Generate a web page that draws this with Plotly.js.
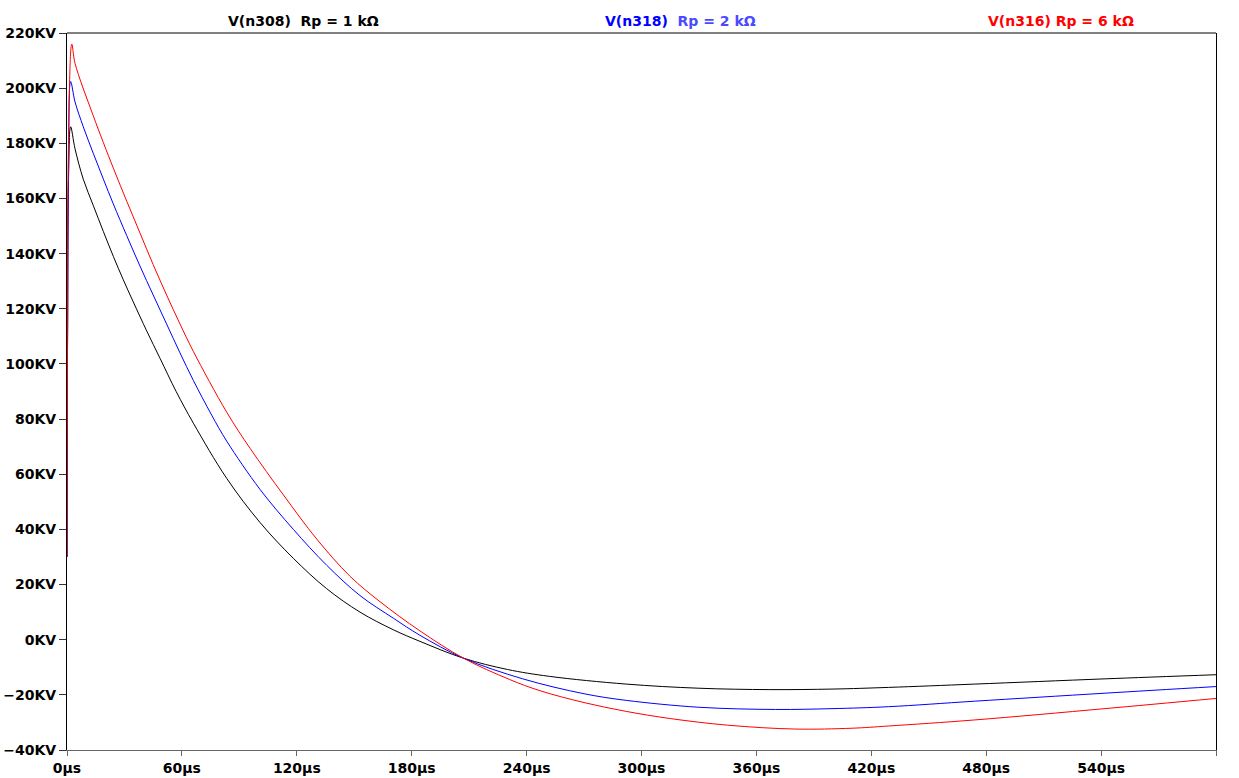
<!DOCTYPE html>
<html>
<head>
<meta charset="utf-8">
<script src="https://cdn.plot.ly/plotly-3.0.1.min.js"></script>
<style>html,body{margin:0;padding:0;background:#fff;}#chart{width:1239px;height:778px;}</style>
</head>
<body>
<div id="chart"></div>
<script>
// time in microseconds, voltage in kV
const tBlack = [0, 0.3, 0.8, 1.9, 4.2, 8.5, 13.7, 19, 24.2, 29.4, 34.6, 41.6, 48.6, 57, 66, 83.4, 100.8, 118.2, 135.6, 153, 170.4, 184.3, 207, 230, 252, 292, 330, 367, 400, 429, 474, 542, 600];
const vBlack = [30, 110, 167, 186, 178, 167, 157.5, 148, 139, 130.5, 122.5, 112, 102, 90, 78.5, 58.5, 42.5, 29.5, 18.5, 10.0, 3.6, -0.6, -6.7, -10.8, -13.3, -16.1, -17.6, -18.1, -17.9, -17.3, -16.1, -14.2, -12.7];

const tBlue = [0, 0.3, 0.8, 1.9, 4.2, 8.5, 13.7, 19, 24.2, 31.2, 38.1, 45, 52, 59, 66, 75.5, 83.4, 100.8, 118.2, 135.6, 153, 170.4, 184.3, 207, 238, 270, 292, 330, 370, 400, 429, 474, 542, 600];
const vBlue = [30, 110, 170, 202.4, 195, 186, 176.4, 167, 158, 146.5, 135.5, 125, 114.5, 104, 94, 81.5, 72, 54.5, 40, 27, 16, 7.8, 1.6, -6.7, -14.2, -19.6, -22.0, -24.5, -25.3, -25.0, -24.3, -22.3, -19.4, -17];

const tRed = [0, 0.3, 0.8, 2.5, 4.2, 13.7, 24.2, 31.2, 38.1, 45, 52, 59, 66, 83.4, 95.6, 113, 130.4, 147.8, 163.4, 184.3, 207, 231, 247, 270, 292, 315, 345, 380, 410, 429, 474, 542, 600];
const vRed = [30, 110, 180, 216, 209, 190, 171, 159, 147.5, 136, 125, 114.5, 104.5, 82.5, 69.4, 52.5, 36.5, 23.0, 13.8, 3.2, -6.7, -14.4, -18.5, -22.8, -26, -28.6, -31, -32.4, -32.1, -31.3, -29.1, -25.0, -21.3];

const seriesNames = ["V(n308)  Rp = 1 kΩ", "V(n318)  Rp = 2 kΩ", "V(n316) Rp = 6 kΩ"];

const FONT = "DejaVu Sans";
const lineShape = {shape: "spline", smoothing: 1, width: 1};
const traces = [
  {x: tBlack, y: vBlack, name: seriesNames[0], mode: "lines", line: Object.assign({color: "#000000"}, lineShape)},
  {x: tBlue, y: vBlue, name: seriesNames[1], mode: "lines", line: Object.assign({color: "#0000ff"}, lineShape)},
  {x: tRed, y: vRed, name: seriesNames[2], mode: "lines", line: Object.assign({color: "#ff0000"}, lineShape)}
];

const layout = {
  width: 1239, height: 778,
  margin: {l: 67, r: 23, t: 33, b: 28},
  paper_bgcolor: "#ffffff", plot_bgcolor: "#ffffff",
  showlegend: false,
  font: {family: FONT, size: 14, color: "#000"},
  xaxis: {
    range: [0, 600], dtick: 60, tick0: 0, ticksuffix: "µs",
    showgrid: false, zeroline: false,
    showline: true, linecolor: "#666", linewidth: 1, mirror: false,
    ticks: "outside", ticklen: 5, tickcolor: "#666",
    tickfont: {family: FONT, size: 14, color: "#000", weight: "bold"}
  },
  yaxis: {
    range: [-40, 220], dtick: 20, tick0: 0, ticksuffix: "KV",
    showgrid: false, zeroline: false,
    showline: true, linecolor: "#000", linewidth: 1, mirror: true,
    ticks: "outside", ticklen: 7, tickcolor: "#333",
    tickfont: {family: FONT, size: 14, color: "#000", weight: "bold"}
  },
  shapes: [
    {type: "line", xref: "paper", yref: "paper", x0: 0, x1: 1, y0: 1, y1: 1, line: {color: "#000", width: 1}}
  ],
  annotations: [
    {xref: "paper", yref: "paper", x: (303-67)/1149, y: 1, yanchor: "bottom", xanchor: "center", yshift: 2, showarrow: false,
     text: "<b>" + seriesNames[0] + "</b>", font: {family: FONT, size: 14, color: "#000"}},
    {xref: "paper", yref: "paper", x: (680-67)/1149, y: 1, yanchor: "bottom", xanchor: "center", yshift: 2, showarrow: false,
     text: "<b><span style='color:#0000ff'>V(n318)</span>  <span style='color:#4a4aff'>Rp = 2 kΩ</span></b>", font: {family: FONT, size: 14, color: "#0000ff"}},
    {xref: "paper", yref: "paper", x: (1061-67)/1149, y: 1, yanchor: "bottom", xanchor: "center", yshift: 2, showarrow: false,
     text: "<b>" + seriesNames[2] + "</b>", font: {family: FONT, size: 14, color: "#ff0000"}}
  ]
};

Plotly.newPlot("chart", traces, layout, {displayModeBar: false, staticPlot: true});
</script>
</body>
</html>
